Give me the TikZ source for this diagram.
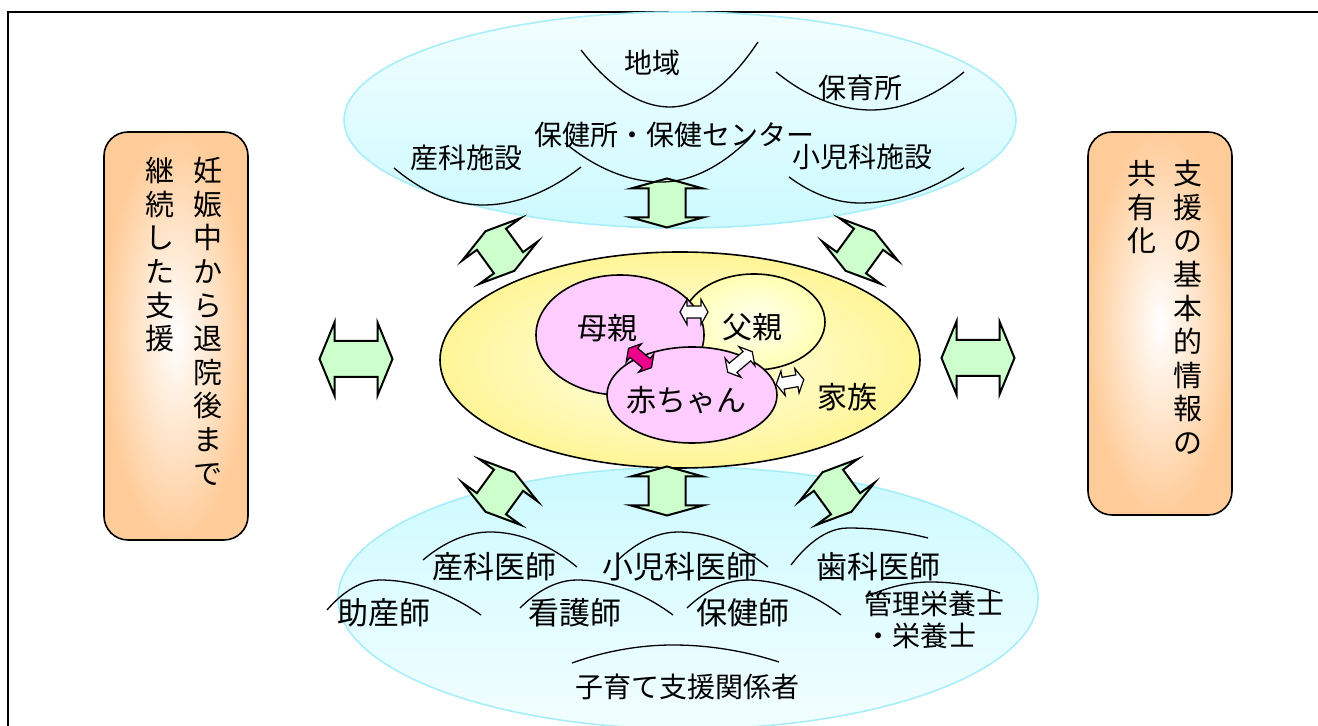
\documentclass[tikz,border=0pt]{standalone}
\usepackage{fontspec}
\setmainfont{Noto Sans CJK JP}
\usetikzlibrary{shapes.geometric}
\definecolor{SkyCyan}{HTML}{CCFAFF}
\definecolor{PaleCyan}{HTML}{F2FEFF}
\definecolor{RimCyan}{HTML}{A8EEF8}
\definecolor{MintGreen}{HTML}{CCFFCC}
\definecolor{FamilyYellow}{HTML}{FFF597}
\definecolor{BabyPink}{HTML}{FFCCFF}
\definecolor{BoxOrange}{HTML}{FFCC99}

\tikzset{
  bigarrow/.style={draw=black, line width=1pt, fill=MintGreen},
  smallarrow/.style={draw=black, line width=0.6pt, fill=white},
  arcline/.style={line width=0.65pt},
  blob/.style={ellipse, inner sep=0pt, line width=0.8pt},
  sidebox/.style={rounded corners=12pt, draw=black, line width=0.8pt, inner color=white, outer color=BoxOrange, minimum width=72pt},
  toptag/.style={inner sep=0pt, font=\fontsize{14}{16}\selectfont},
  bottag/.style={inner sep=0pt, font=\fontsize{15.5}{18}\selectfont},
  midtag/.style={inner sep=0pt, font=\fontsize{15}{18}\selectfont},
  coltext/.style={inner sep=0pt, anchor=north, align=center, font=\fontsize{14.5}{16.8}\selectfont}
}

% double-headed block arrow: style, x, y, angle, half length, half head width, half shaft width, head length
\newcommand{\dblarrow}[8]{%
  \begin{scope}[shift={(#2,#3)}, rotate=#4]
    \draw[#1] (-#5,0) -- ({-#5+#8},#6) -- ({-#5+#8},#7) -- ({#5-#8},#7) -- ({#5-#8},#6) -- (#5,0)
      -- ({#5-#8},-#6) -- ({#5-#8},-#7) -- ({-#5+#8},-#7) -- ({-#5+#8},-#6) -- cycle;
  \end{scope}}

\begin{document}
\begin{tikzpicture}[x=0.5pt, y=-0.5pt]
  \useasboundingbox (0,0) rectangle (1318,726);
  \fill[white] (0,0) rectangle (1318,726);
  \draw[line width=1pt] (8,726) -- (8,12) -- (1318,12);

  % groups round the family
  \node[blob, draw=RimCyan, top color=PaleCyan, bottom color=SkyCyan, minimum width=336pt, minimum height=108pt] (facilities) at (680,120) {};
  \node[blob, draw=RimCyan, top color=SkyCyan, bottom color=PaleCyan, minimum width=350pt, minimum height=131pt] (staff) at (688,598) {};
  \node[blob, draw=black, inner color=yellow!8, outer color=FamilyYellow, minimum width=240pt, minimum height=108pt] (family) at (680,360) {};

  \node[blob, draw=black, inner color=yellow!5, outer color=yellow!30, minimum width=71pt, minimum height=48pt] (father) at (754,322) {};
  \node[blob, draw=black, fill=BabyPink, minimum width=84pt, minimum height=60pt] (mother) at (620,335) {};
  \node[blob, draw=black, fill=BabyPink, minimum width=85pt, minimum height=48pt] (baby) at (692,395) {};

  \node[midtag] (mothertxt) at (607,328) {母親};
  \node[midtag] (fathertxt) at (752,327) {父親};
  \node[midtag] (babytxt) at (686,400) {赤ちゃん};
  \node[midtag] (familytxt) at (847,397) {家族};

  \dblarrow{smallarrow}{694}{312}{0}{14}{12.5}{6}{7}
  \dblarrow{smallarrow, fill=magenta}{640}{358}{-40}{15}{12}{6}{7}
  \dblarrow{smallarrow}{740}{362}{40}{16}{12.5}{6}{7}
  \dblarrow{smallarrow}{790}{382}{10}{14}{12.5}{6}{7}

  % green arrows
  \dblarrow{bigarrow}{667}{203}{90}{24.5}{36}{18.5}{10}
  \dblarrow{bigarrow}{667}{491}{90}{24.5}{36}{18.5}{10}
  \dblarrow{bigarrow}{500}{251}{-54}{24.5}{36}{18}{10}
  \dblarrow{bigarrow}{860}{251}{54}{24.5}{36}{18}{10}
  \dblarrow{bigarrow}{500}{492}{54}{24.5}{36}{18}{10}
  \dblarrow{bigarrow}{837}{492}{-54}{24.5}{36}{18}{10}
  \dblarrow{bigarrow}{356}{359}{0}{36.5}{36.5}{18}{15}
  \dblarrow{bigarrow}{978}{358}{0}{36.5}{36.5}{18}{15}

  % facilities
  \draw[arcline] (581,50) parabola bend (670,107) (758,42);
  \draw[arcline] (776,72) parabola bend (871,110) (964,72);
  \draw[arcline] (565,143) parabola bend (661,182) (750,138);
  \draw[arcline] (394,168) parabola bend (483,205) (581,167);
  \draw[arcline] (789,177) parabola bend (860,203) (964,168);
  \node[toptag] (region) at (652,63) {地域};
  \node[toptag] (nursery) at (860,88) {保育所};
  \node[toptag] (healthctr) at (674,135) {保健所・保健センター};
  \node[toptag] (obstetric) at (466,158) {産科施設};
  \node[toptag] (pediatric) at (862,157) {小児科施設};

  % staff
  \draw[arcline] (423,560) parabola bend (490,532) (577,567);
  \draw[arcline] (618,560) parabola bend (678,532) (768,567);
  \draw[arcline] (791,565) parabola bend (848,528) (928,538);
  \draw[arcline] (327,610) parabola bend (380,580) (481,615);
  \draw[arcline] (520,608) parabola bend (577,580) (673,615);
  \draw[arcline] (687,608) parabola bend (747,580) (841,615);
  \draw[arcline] (866,597) parabola bend (930,582) (1000,593);
  \draw[arcline] (572,663) parabola bend (673,645) (779,662);
  \node[bottag] (obdoc) at (494,567) {産科医師};
  \node[bottag] (peddoc) at (680,567) {小児科医師};
  \node[bottag] (dentist) at (878,567) {歯科医師};
  \node[bottag] (midwife) at (384,613) {助産師};
  \node[bottag] (nurse) at (575,613) {看護師};
  \node[bottag] (phnurse) at (743,613) {保健師};
  \node[toptag, align=left, anchor=north west] (dietitian) at (864,590) {管理栄養士\\・栄養士};
  \node[toptag] (childcare) at (687,687) {子育て支援関係者};

  % side boxes
  \node[sidebox, minimum height=204pt] (leftbox) at (176,336) {};
  \node[coltext] (leftcolA) at (208,157) {妊\\娠\\中\\か\\ら\\退\\院\\後\\ま\\で};
  \node[coltext] (leftcolB) at (160,157) {継\\続\\し\\た\\支\\援};
  \node[sidebox, minimum height=191.5pt] (rightbox) at (1160,323.5) {};
  \node[coltext] (rightcolA) at (1188,160) {支\\援\\の\\基\\本\\的\\情\\報\\の};
  \node[coltext] (rightcolB) at (1142,160) {共\\有\\化};
\end{tikzpicture}
\end{document}
